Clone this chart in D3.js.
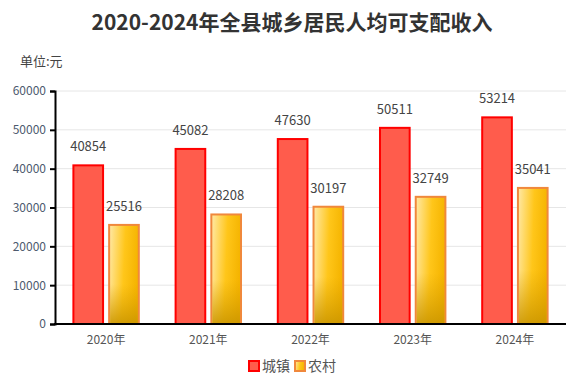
<!DOCTYPE html>
<html><head><meta charset="utf-8">
<script src="https://cdn.jsdelivr.net/npm/d3@7"></script>
<style>body{margin:0;background:#fff;} svg{display:block;}</style>
</head><body>
<svg id="c" width="585" height="386"></svg>
<script>
const categories = ["2020年","2021年","2022年","2023年","2024年"];
const urban = [40854,45082,47630,50511,53214];
const rural = [25516,28208,30197,32749,35041];
const seriesNames = ["城镇","农村"];
const yTicks = [0,10000,20000,30000,40000,50000,60000];

(function(){
const svg = d3.select("#c");
const font = "'Noto Sans CJK SC','Noto Sans',sans-serif";
const pL = 55, pR = 566, pT = 91, pB = 324;

const x = d3.scaleBand().domain(categories).range([pL,pR]).paddingInner(0.36).paddingOuter(0.18);
const inner = d3.scaleBand().domain([0,1]).range([0,x.bandwidth()]).paddingInner(0.17);
const y = d3.scaleLinear().domain([0,60000]).range([pB,pT]);

const defs = svg.append("defs");
const g1 = defs.append("linearGradient").attr("id","ruralH").attr("x1","0").attr("y1","0").attr("x2","1").attr("y2","0.15");
g1.append("stop").attr("offset","0").attr("stop-color","#ffe9a8");
g1.append("stop").attr("offset","0.55").attr("stop-color","#ffc61a");
g1.append("stop").attr("offset","1").attr("stop-color","#f5b400");
const g2 = defs.append("linearGradient").attr("id","ruralV").attr("x1","0").attr("y1","0").attr("x2","0").attr("y2","1");
g2.append("stop").attr("offset","0").attr("stop-color","#d9a000").attr("stop-opacity",0);
g2.append("stop").attr("offset","0.6").attr("stop-color","#d9a000").attr("stop-opacity",0);
g2.append("stop").attr("offset","1").attr("stop-color","#c99500").attr("stop-opacity",0.85);

svg.append("text").attr("x",292).attr("y",30).attr("text-anchor","middle")
  .attr("font-family",font).attr("font-weight","bold").attr("font-size",21).attr("fill","#333")
  .text("2020-2024年全县城乡居民人均可支配收入");
svg.append("text").attr("x",20).attr("y",66).attr("font-family",font).attr("font-size",13).attr("fill","#444").text("单位:元");

svg.append("g").selectAll("line").data(yTicks.filter(d=>d>0)).join("line")
  .attr("x1",pL).attr("x2",pR).attr("y1",d=>y(d)).attr("y2",d=>y(d))
  .attr("stroke","#e6e6e6").attr("stroke-width",1);

const ya = svg.append("g").attr("transform",`translate(${pL},0)`)
  .call(d3.axisLeft(y).tickValues(yTicks).tickSize(5).tickPadding(4).tickFormat(d3.format("d")));
ya.select(".domain").attr("stroke","#000").attr("stroke-width",2);
ya.selectAll(".tick line").attr("stroke","#000").attr("stroke-width",2);
ya.selectAll(".tick text").attr("font-family",font).attr("font-size",12).attr("fill","#4d5a6e");

const data = categories.map((c,i)=>({c,vals:[urban[i],rural[i]]}));
const groups = svg.append("g").selectAll("g").data(data).join("g")
  .attr("transform",d=>`translate(${x(d.c)},0)`);
groups.each(function(d){
  const g = d3.select(this);
  g.append("rect").attr("x",inner(0)).attr("width",inner.bandwidth())
    .attr("y",y(d.vals[0])).attr("height",pB-y(d.vals[0]))
    .attr("fill","#ff5c4c").attr("stroke","#ff0000").attr("stroke-width",2);
  g.append("rect").attr("x",inner(1)).attr("width",inner.bandwidth())
    .attr("y",y(d.vals[1])).attr("height",pB-y(d.vals[1]))
    .attr("fill","url(#ruralH)").attr("stroke","#f0883c").attr("stroke-width",2);
  g.append("rect").attr("x",inner(1)+1).attr("width",inner.bandwidth()-2)
    .attr("y",y(d.vals[1])+1).attr("height",pB-y(d.vals[1])-2)
    .attr("fill","url(#ruralV)");
  d.vals.forEach((v,k)=>{
    g.append("text").attr("x",inner(k)+inner.bandwidth()/2).attr("y",y(v)-14)
      .attr("text-anchor","middle").attr("font-family",font).attr("font-size",13).attr("fill","#444")
      .text(v);
  });
});

svg.append("line").attr("x1",pL-1).attr("x2",pR).attr("y1",pB).attr("y2",pB).attr("stroke","#000").attr("stroke-width",2);
svg.append("g").selectAll("text").data(categories).join("text")
  .attr("x",d=>x(d)+x.bandwidth()/2).attr("y",344).attr("text-anchor","middle")
  .attr("font-family",font).attr("font-size",12).attr("fill","#555").text(d=>d);

const legendX = [248, 294];
seriesNames.forEach((n,i)=>{
  svg.append("rect").attr("x",legendX[i]+1).attr("y",361).attr("width",10).attr("height",10)
    .attr("fill", i===0?"#ff5c4c":"url(#ruralH)").attr("stroke", i===0?"#ff0000":"#f0883c").attr("stroke-width",2);
  svg.append("text").attr("x",legendX[i]+14).attr("y",371).attr("font-family",font).attr("font-size",14).attr("fill","#555").text(n);
});
})();
</script>
</body></html>
